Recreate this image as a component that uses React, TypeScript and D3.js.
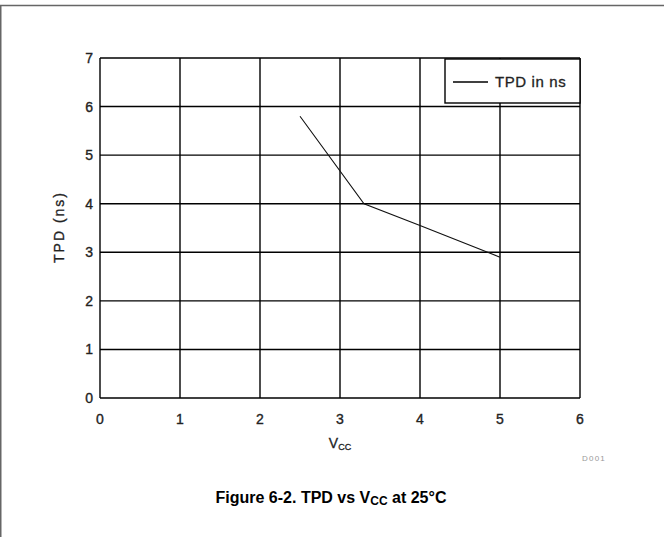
import * as d3 from 'd3'

const xTicks = [0, 1, 2, 3, 4, 5, 6]
const yTicks = [0, 1, 2, 3, 4, 5, 6, 7]
const vcc = [2.5, 3.3, 4, 5]
const tpd = [5.8, 4.0, 3.55, 2.9]
const seriesName = 'TPD in ns'

export default function App() {
  const width = 664
  const height = 537
  const left = 100
  const right = 580
  const top = 58
  const bottom = 398

  const x = d3.scaleLinear().domain([0, 6]).range([left, right])
  const y = d3.scaleLinear().domain([0, 7]).range([bottom, top])

  const line = d3.line<number>()
    .x((_, i) => x(vcc[i]))
    .y(d => y(d))

  const font = 'Liberation Sans, Arial, sans-serif'

  return (
    <svg width={width} height={height} style={{position: 'absolute', left: 0, top: 0}}
      fontFamily={font}>
      <rect x={0} y={0} width={width} height={height} fill="#fff" />
      {/* outer frame, only top and left visible */}
      <path d={`M0.75,${height} V5.5 H${width}`} fill="none" stroke="#666" strokeWidth={1.5} />

      {/* grid */}
      <g stroke="#000" strokeWidth={1.4}>
        {xTicks.map(t => (
          <line key={`gx${t}`} x1={x(t)} x2={x(t)} y1={top} y2={bottom} />
        ))}
        {yTicks.map(t => (
          <line key={`gy${t}`} x1={left} x2={right} y1={y(t)} y2={y(t)} />
        ))}
      </g>

      {/* legend */}
      <g>
        <rect x={445} y={59} width={right - 445} height={44} fill="#fff" stroke="#000" strokeWidth={1.4} />
        <line x1={453} x2={488} y1={82} y2={82} stroke="#000" strokeWidth={1.3} />
        <text x={495} y={87} fontSize={15} letterSpacing={0.6} fill="#222"
          stroke="#222" strokeWidth={0.3}>{seriesName}</text>
      </g>

      {/* series */}
      <path d={line(tpd) ?? undefined} fill="none" stroke="#111" strokeWidth={1.1} />

      {/* tick labels */}
      <g fontSize={14} fill="#222" stroke="#222" strokeWidth={0.35}>
        {yTicks.map(t => (
          <text key={`ly${t}`} x={93} y={y(t) + 5} textAnchor="end">{t}</text>
        ))}
        {xTicks.map(t => (
          <text key={`lx${t}`} x={x(t)} y={bottom + 26} textAnchor="middle">{t}</text>
        ))}
      </g>

      {/* axis titles */}
      <text x={340} y={448} fontSize={14} fill="#222" stroke="#222" strokeWidth={0.3} textAnchor="middle">
        V<tspan fontSize={9} dy={2}>CC</tspan>
      </text>
      <text transform={`translate(64, ${(top + bottom) / 2 - 1}) rotate(-90)`} fontSize={14}
        letterSpacing={2} fill="#222" stroke="#222" strokeWidth={0.3} textAnchor="middle">TPD (ns)</text>
      <text x={594} y={461} fontSize={8} letterSpacing={1.2} fill="#999" textAnchor="middle">D001</text>

      {/* caption */}
      <text x={331} y={503} fontSize={16} fontWeight={700} fill="#000" textAnchor="middle">
        Figure 6-2. TPD vs V<tspan fontSize={12} dy={2}>CC</tspan><tspan dy={-2}> at 25°C</tspan>
      </text>
    </svg>
  )
}
